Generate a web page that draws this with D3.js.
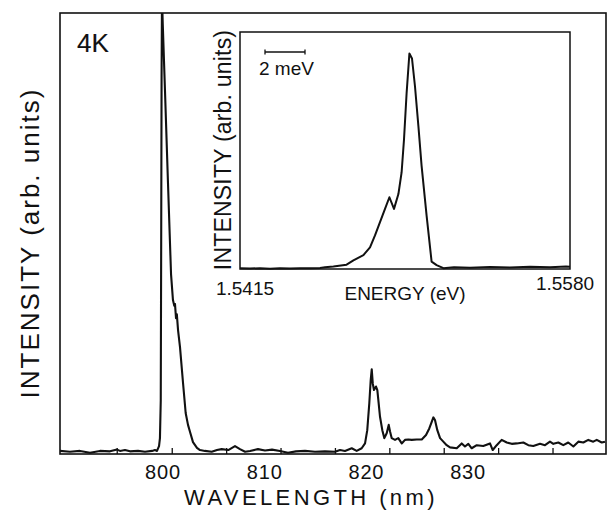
<!DOCTYPE html>
<html>
<head>
<meta charset="utf-8">
<script src="https://cdn.jsdelivr.net/npm/d3@7"></script>
<style>
  body { margin: 0; background: #fff; }
  svg { display: block; font-family: "Liberation Sans", Arial, sans-serif; }
</style>
</head>
<body>
<svg width="608" height="516"></svg>
<script>
// main spectrum: wavelength (nm) and intensity (arb.)
const wavelength = [789.87, 790.85, 791.84, 792.82, 793.80, 794.79, 795.48, 795.77, 796.26, 796.75, 797.54, 798.23,
  798.92, 799.21, 799.41, 799.61, 799.70, 799.78, 799.82, 799.86, 799.90, 799.98, 800.20, 800.49, 800.79,
  800.98, 801.11, 801.18, 801.28, 801.36, 801.48, 801.67, 801.97, 802.23, 802.46, 802.66, 802.95, 803.34,
  803.64, 804.13, 804.79, 805.31, 805.77, 806.42, 806.79, 807.08, 807.57, 808.07, 808.56, 809.34, 810.03,
  810.72, 811.51, 812.29, 813.08, 813.97, 814.95, 815.93, 816.92, 817.41, 817.90, 818.56, 819.05, 819.54,
  819.87, 820.09, 820.29, 820.43, 820.53, 820.63, 820.75, 820.95, 821.08, 821.18, 821.34, 821.57, 821.77,
  822.00, 822.20, 822.33, 822.49, 822.82, 823.14, 823.48, 823.80, 824.13, 824.46, 824.95, 825.45, 825.87,
  826.19, 826.43, 826.59, 826.75, 826.98, 827.25, 827.57, 827.90, 828.23, 828.89, 829.38, 829.70, 830.03,
  830.36, 830.86, 831.50, 832.16, 832.43, 832.82, 833.31, 833.81, 834.30, 834.79, 835.44, 835.93, 836.42,
  837.08, 837.57, 838.06, 838.39, 838.88, 839.37, 839.86, 840.36, 840.85, 841.34, 841.83, 842.32, 842.66,
  843.15, 843.47];
const intensity = [0.007, 0.005, 0.007, 0.003, 0.007, 0.006, 0.010, 0.007, 0.009, 0.006, 0.007, 0.005,
  0.007, 0.009, 0.007, 0.018, 0.036, 0.122, 0.463, 0.848, 1.034, 0.973, 0.821, 0.615, 0.408,
  0.349, 0.336, 0.340, 0.308, 0.317, 0.281, 0.243, 0.161, 0.093, 0.066, 0.050, 0.027, 0.014,
  0.009, 0.007, 0.005, 0.009, 0.011, 0.009, 0.014, 0.018, 0.011, 0.005, 0.007, 0.011, 0.008,
  0.010, 0.007, 0.003, 0.006, 0.007, 0.005, 0.006, 0.005, 0.009, 0.007, 0.013, 0.007, 0.013,
  0.024, 0.054, 0.115, 0.168, 0.192, 0.160, 0.145, 0.153, 0.145, 0.122, 0.085, 0.054, 0.036,
  0.047, 0.066, 0.051, 0.036, 0.032, 0.036, 0.024, 0.032, 0.033, 0.032, 0.033, 0.033, 0.043,
  0.058, 0.073, 0.083, 0.077, 0.054, 0.036, 0.028, 0.020, 0.015, 0.013, 0.024, 0.017, 0.023,
  0.013, 0.020, 0.018, 0.024, 0.009, 0.020, 0.032, 0.026, 0.023, 0.024, 0.026, 0.020, 0.018,
  0.023, 0.020, 0.028, 0.023, 0.026, 0.020, 0.026, 0.017, 0.028, 0.026, 0.032, 0.028, 0.032,
  0.026, 0.028];

// inset: energy (eV) and intensity
const energy = [1.5415, 1.542, 1.5425, 1.543, 1.5435, 1.544, 1.5445, 1.545, 1.5455, 1.54575, 1.54617,
  1.54683, 1.54717, 1.54767, 1.548, 1.54825, 1.5485, 1.54875, 1.54897, 1.5492, 1.54942, 1.54958,
  1.5497, 1.54983, 1.54997, 1.5501, 1.55025, 1.55042, 1.55058, 1.55083, 1.55108, 1.55133, 1.55167,
  1.5522, 1.553, 1.554, 1.555, 1.556, 1.557, 1.5578, 1.558];
const insetIntensity = [0.004, 0.002, 0.004, 0.001, 0.003, 0.002, 0.004, 0.003, 0.005, 0.008, 0.012,
  0.020, 0.040, 0.064, 0.100, 0.156, 0.218, 0.279, 0.333, 0.279, 0.348, 0.448,
  0.601, 0.816, 1.0, 0.977, 0.847, 0.663, 0.479, 0.248, 0.034, 0.018, 0.004,
  0.008, 0.006, 0.009, 0.007, 0.010, 0.008, 0.012, 0.010];

// tick marks as printed (they sit a little off the numbers in the original)
const xTicks = [795.45, 800.86, 806.21, 811.56, 816.91, 822.26, 827.61, 832.96, 838.31];
const xTickLabels = [800, 810, 820, 830];
const insetTickLabels = [1.5415, 1.5580];

const svg = d3.select("svg");

// main frame
const frame = {left: 60, top: 13, right: 606, bottom: 454};
const x = d3.scaleLinear().domain([789.87, 843.57]).range([frame.left, frame.right]);
const y = d3.scaleLinear().domain([0, 1]).range([frame.bottom, frame.top]);

svg.append("clipPath").attr("id", "mainclip")
  .append("rect")
  .attr("x", frame.left).attr("y", frame.top)
  .attr("width", frame.right - frame.left).attr("height", frame.bottom - frame.top);

svg.append("rect")
  .attr("x", frame.left).attr("y", frame.top)
  .attr("width", frame.right - frame.left).attr("height", frame.bottom - frame.top)
  .attr("fill", "none").attr("stroke", "#111").attr("stroke-width", 1.6);

const mainData = wavelength.map((w, i) => [w, intensity[i]]);
svg.append("path")
  .datum(mainData)
  .attr("clip-path", "url(#mainclip)")
  .attr("fill", "none").attr("stroke", "#111").attr("stroke-width", 2.1)
  .attr("stroke-linejoin", "round")
  .attr("d", d3.line().x(d => x(d[0])).y(d => y(d[1])));

// inward ticks on the wavelength axis
const xAxis = svg.append("g")
  .attr("transform", "translate(0," + frame.bottom + ")")
  .call(d3.axisBottom(x).tickValues(xTicks).tickSize(0).tickFormat(""));
xAxis.select(".domain").remove();
xAxis.selectAll(".tick line")
  .attr("y2", -6)
  .attr("stroke", "#111").attr("stroke-width", 1.3);

svg.selectAll(".xlabel")
  .data(xTickLabels)
  .enter().append("text")
  .attr("x", d => x(d)).attr("y", 479)
  .attr("text-anchor", "middle")
  .attr("font-size", 20).attr("letter-spacing", 0.8)
  .attr("fill", "#111")
  .text(d => d);

svg.append("text")
  .attr("x", 311).attr("y", 505)
  .attr("text-anchor", "middle")
  .attr("font-size", 22).attr("letter-spacing", 3.4)
  .attr("fill", "#111")
  .text("WAVELENGTH (nm)");

svg.append("text")
  .attr("transform", "translate(39,243) rotate(-90)")
  .attr("text-anchor", "middle")
  .attr("font-size", 26).attr("letter-spacing", 2)
  .attr("fill", "#111")
  .text("INTENSITY (arb. units)");

svg.append("text")
  .attr("x", 77).attr("y", 52)
  .attr("font-size", 26)
  .attr("fill", "#111")
  .attr("stroke", "#111").attr("stroke-width", 0.15)
  .text("4K");

// inset
const inset = {left: 240, top: 32, right: 570, bottom: 269};
const ix = d3.scaleLinear().domain([1.5415, 1.5580]).range([inset.left, inset.right]);
const iy = d3.scaleLinear().domain([0, 1.1]).range([inset.bottom, inset.top]);

svg.append("rect")
  .attr("x", inset.left).attr("y", inset.top)
  .attr("width", inset.right - inset.left).attr("height", inset.bottom - inset.top)
  .attr("fill", "#fff").attr("stroke", "#111").attr("stroke-width", 1.5);

const insetData = energy.map((e, i) => [e, insetIntensity[i]]);
svg.append("path")
  .datum(insetData)
  .attr("fill", "none").attr("stroke", "#111").attr("stroke-width", 2)
  .attr("stroke-linejoin", "round")
  .attr("d", d3.line().x(d => ix(d[0])).y(d => iy(d[1])));

// 2 meV scale bar
const bar = svg.append("g").attr("stroke", "#111").attr("stroke-width", 1.3);
bar.append("line").attr("x1", ix(1.5415 + 0.00125)).attr("x2", ix(1.5415 + 0.00325)).attr("y1", 52).attr("y2", 52);
bar.append("line").attr("x1", ix(1.5415 + 0.00125)).attr("x2", ix(1.5415 + 0.00125)).attr("y1", 49.5).attr("y2", 54.5);
bar.append("line").attr("x1", ix(1.5415 + 0.00325)).attr("x2", ix(1.5415 + 0.00325)).attr("y1", 49.5).attr("y2", 54.5);

svg.append("text")
  .attr("x", 259).attr("y", 75)
  .attr("font-size", 19)
  .attr("fill", "#111")
  .text("2 meV");

svg.selectAll(".ilabel")
  .data(insetTickLabels)
  .enter().append("text")
  .attr("x", (d, i) => ix(d) + (i === 0 ? 5 : -5))
  .attr("y", (d, i) => i === 0 ? 295 : 290)
  .attr("text-anchor", "middle")
  .attr("font-size", 19)
  .attr("fill", "#111")
  .text(d => d.toFixed(4));

svg.append("text")
  .attr("x", 405).attr("y", 300)
  .attr("text-anchor", "middle")
  .attr("font-size", 19)
  .attr("fill", "#111")
  .text("ENERGY (eV)");

svg.append("text")
  .attr("transform", "translate(231,150) rotate(-90)")
  .attr("text-anchor", "middle")
  .attr("font-size", 23).attr("letter-spacing", 0.2)
  .attr("fill", "#111")
  .text("INTENSITY (arb. units)");
</script>
</body>
</html>
